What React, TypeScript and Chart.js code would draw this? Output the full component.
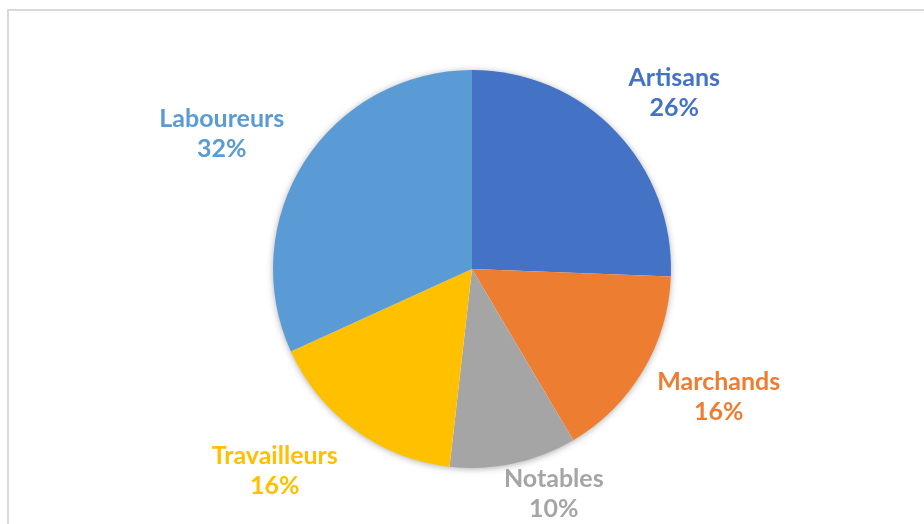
import React, { useEffect, useRef } from "react";
import { Chart, registerables } from "chart.js";

Chart.register(...registerables);

const categories = ["Artisans", "Marchands", "Notables", "Travailleurs", "Laboureurs"];
const shares = [25.6, 15.9, 10.3, 16.4, 31.8];
const percentLabels = ["26%", "16%", "10%", "16%", "32%"];
const sliceColors = ["#4472C4", "#ED7D31", "#A5A5A5", "#FFC000", "#5B9BD5"];

const FONT = "bold 25px Lato, 'Open Sans', sans-serif";
const LINE_H = 30;

const shadowPlugin = {
  id: "pieShadow",
  beforeDatasetsDraw(chart: any) {
    const meta = chart.getDatasetMeta(0);
    const arc = meta.data[0];
    if (!arc) return;
    const { x, y, outerRadius } = arc.getProps(["x", "y", "outerRadius"], true);
    const ctx = chart.ctx;
    ctx.save();
    ctx.shadowColor = "rgba(0,0,0,0.35)";
    ctx.shadowBlur = 7;
    ctx.shadowOffsetX = 0;
    ctx.shadowOffsetY = 1;
    ctx.fillStyle = "#ffffff";
    ctx.beginPath();
    ctx.arc(x, y, outerRadius - 0.5, 0, Math.PI * 2);
    ctx.fill();
    ctx.restore();
  },
};

const labelPlugin = {
  id: "outsideLabels",
  afterDatasetsDraw(chart: any, _args: any, opts: any) {
    const meta = chart.getDatasetMeta(0);
    const ctx = chart.ctx;
    const bottomLimit = chart.height - 1;
    const nudges = (opts && opts.nudges) || {};
    ctx.save();
    ctx.font = FONT;
    ctx.textAlign = "center";
    ctx.textBaseline = "middle";
    meta.data.forEach((el: any, i: number) => {
      const { x, y, startAngle, endAngle, outerRadius } = el.getProps(
        ["x", "y", "startAngle", "endAngle", "outerRadius"],
        true
      );
      const mid = (startAngle + endAngle) / 2;
      const dx = Math.cos(mid);
      const dy = Math.sin(mid);
      const lines = [categories[i], percentLabels[i]];
      const w = Math.max(...lines.map((t) => ctx.measureText(t).width));
      const halfW = w / 2;
      const halfH = LINE_H - 1;
      let cx = x + dx * (outerRadius + 36 + halfW);
      let cy = y + dy * (outerRadius + 51);
      if (cy + halfH > bottomLimit) {
        const over = cy + halfH - bottomLimit;
        cy -= over;
        cx += Math.sign(dx) * over * 1.4;
      }
      const n = nudges[i];
      if (n) {
        cx += n[0];
        cy += n[1];
      }
      ctx.fillStyle = sliceColors[i];
      ctx.fillText(lines[0], cx, cy - LINE_H / 2);
      ctx.fillText(lines[1], cx, cy + LINE_H / 2);
    });
    ctx.restore();
  },
};

export default function App() {
  const ref = useRef<HTMLCanvasElement | null>(null);

  useEffect(() => {
    document.body.style.margin = "0";
    document.body.style.overflow = "hidden";
    if (!ref.current) return;
    const chart = new Chart(ref.current, {
      type: "pie",
      data: {
        labels: categories,
        datasets: [
          {
            data: shares,
            backgroundColor: sliceColors,
            borderWidth: 0,
          },
        ],
      },
      options: {
        animation: false,
        responsive: false,
        maintainAspectRatio: false,
        devicePixelRatio: 1,
        layout: { padding: { top: 70, bottom: 56, left: 273, right: 253 } },
        plugins: {
          legend: { display: false },
          tooltip: { enabled: false },
          outsideLabels: { nudges: { 0: [0, -3], 1: [-8, 0], 2: [-5, 0], 3: [-22, 0] } },
        } as any,
      },
      plugins: [shadowPlugin, labelPlugin],
    });
    return () => chart.destroy();
  }, []);

  return (
    <div style={{ position: "relative", width: 924, height: 524, overflow: "hidden", background: "#fff" }}>
      <canvas ref={ref} width={924} height={524} style={{ position: "absolute", left: 0, top: 0 }} />
      <div
        style={{
          position: "absolute",
          left: 7,
          top: 9,
          width: 940,
          height: 540,
          border: "2px solid #d9d9d9",
          boxSizing: "border-box",
          pointerEvents: "none",
        }}
      />
    </div>
  );
}
